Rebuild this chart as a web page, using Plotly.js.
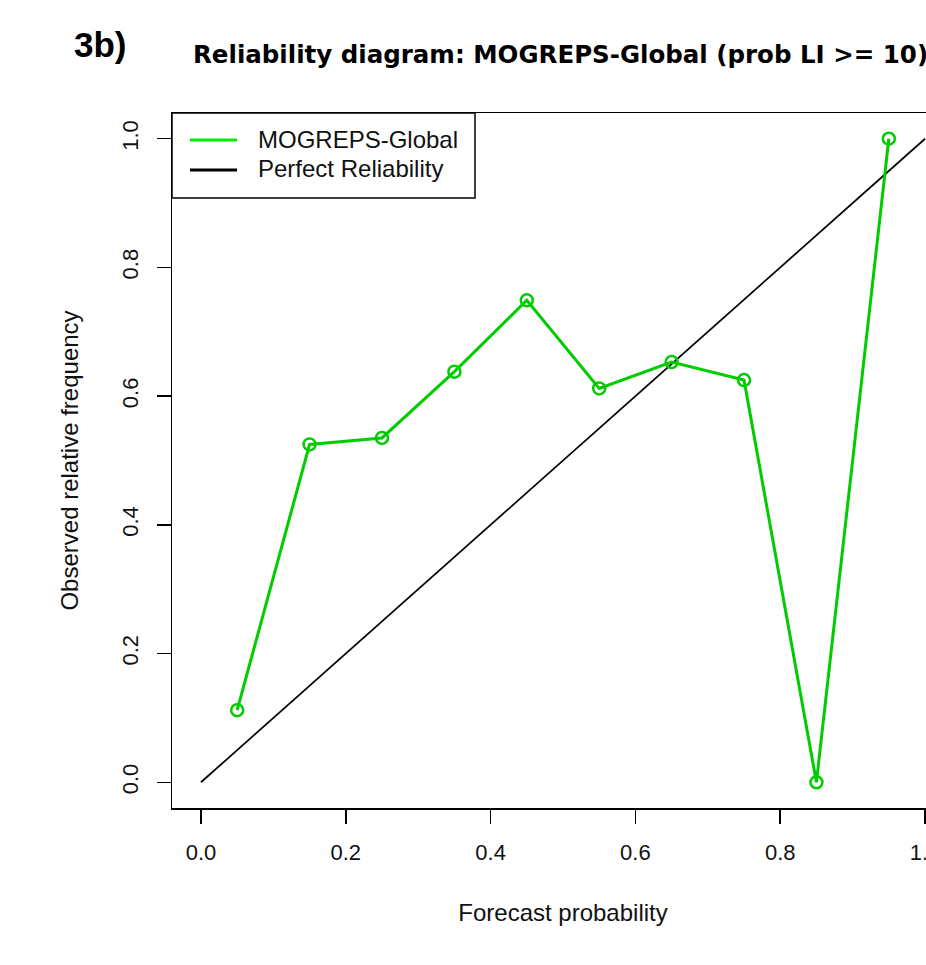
<!DOCTYPE html>
<html>
<head>
<meta charset="utf-8">
<script src="https://cdn.plot.ly/plotly-3.0.1.min.js"></script>
<style>
html,body{margin:0;padding:0;overflow:hidden;background:#fff;}
#chart{width:980px;height:965px;}
</style>
</head>
<body>
<div id="chart"></div>
<script>
// Data
const forecastProb = [0.05, 0.15, 0.25, 0.35, 0.45, 0.55, 0.65, 0.75, 0.85, 0.95];
const observedFreq = [0.112, 0.525, 0.535, 0.638, 0.749, 0.612, 0.653, 0.625, 0.0, 1.0];
const perfectX = [0, 1];
const perfectY = [0, 1];
const tickValues = [0, 0.2, 0.4, 0.6, 0.8, 1.0];
const tickLabels = ["0.0", "0.2", "0.4", "0.6", "0.8", "1.0"];
const seriesNames = ["MOGREPS-Global", "Perfect Reliability"];

const W = 980, H = 965;
const L = 172, R = 954, T = 113, B = 808;
const px = p => (p - L) / (R - L);
const py = p => (B - p) / (B - T);
const FONT = "Liberation Sans, Arial, Helvetica, sans-serif";
const BOLDFONT = "DejaVu Sans, Liberation Sans, sans-serif";

const traces = [
  {x: perfectX, y: perfectY, mode: "lines", line: {color: "#000", width: 1.7}, showlegend: false, hoverinfo: "skip"},
  {x: forecastProb, y: observedFreq, mode: "lines+markers",
   line: {color: "#00cc00", width: 3},
   marker: {symbol: "circle-open", size: 12, color: "#00cc00", line: {width: 2.5, color: "#00cc00"}},
   showlegend: false}
];

const axisCommon = {
  showline: true, mirror: true, linecolor: "#000", linewidth: 1.5,
  ticks: "outside", ticklen: 14, tickwidth: 1.5, tickcolor: "#000",
  showgrid: false, zeroline: false,
  tickvals: tickValues, ticktext: tickLabels,
  ticklabelstandoff: 10,
  tickfont: {family: FONT, size: 22, color: "#111"}
};

const layout = {
  width: W, height: H,
  margin: {l: L, r: W - R, t: T, b: H - B, pad: 0},
  paper_bgcolor: "#fff", plot_bgcolor: "#fff",
  showlegend: false,
  xaxis: Object.assign({}, axisCommon, {
    range: [-0.04, 1.04],
    title: {text: "Forecast probability", font: {family: FONT, size: 24, color: "#111"}, standoff: 40}
  }),
  yaxis: Object.assign({}, axisCommon, {
    range: [-0.04, 1.04],
    tickangle: -90,
    title: {text: "Observed relative frequency", font: {family: FONT, size: 24, color: "#111"}, standoff: 32}
  }),
  shapes: [
    {type: "rect", xref: "paper", yref: "paper", x0: 0, x1: px(475), y0: py(198), y1: 1,
     line: {color: "#000", width: 1.5}, fillcolor: "#fff", layer: "above"},
    {type: "line", xref: "paper", yref: "paper", x0: px(190), x1: px(237), y0: py(140), y1: py(140),
     line: {color: "#00ee00", width: 3}, layer: "above"},
    {type: "line", xref: "paper", yref: "paper", x0: px(190), x1: px(237), y0: py(170), y1: py(170),
     line: {color: "#000", width: 3}, layer: "above"}
  ],
  annotations: [
    {xref: "paper", yref: "paper", x: px(256), y: py(139), xanchor: "left", yanchor: "middle",
     text: seriesNames[0], showarrow: false, font: {family: FONT, size: 24, color: "#111"}},
    {xref: "paper", yref: "paper", x: px(256), y: py(169), xanchor: "left", yanchor: "middle",
     text: seriesNames[1], showarrow: false, font: {family: FONT, size: 24, color: "#111"}},
    {xref: "paper", yref: "paper", x: px(191), y: py(54), xanchor: "left", yanchor: "middle",
     text: "<b>Reliability diagram: MOGREPS-Global (prob LI &gt;= 10)</b>", showarrow: false,
     font: {family: BOLDFONT, size: 24.5, color: "#000"}},
    {xref: "paper", yref: "paper", x: px(72), y: py(45), xanchor: "left", yanchor: "middle",
     text: "<b>3b)</b>", showarrow: false, font: {family: FONT, size: 35, color: "#000"}}
  ]
};

Plotly.newPlot("chart", traces, layout, {displayModeBar: false, staticPlot: true});
</script>
</body>
</html>
